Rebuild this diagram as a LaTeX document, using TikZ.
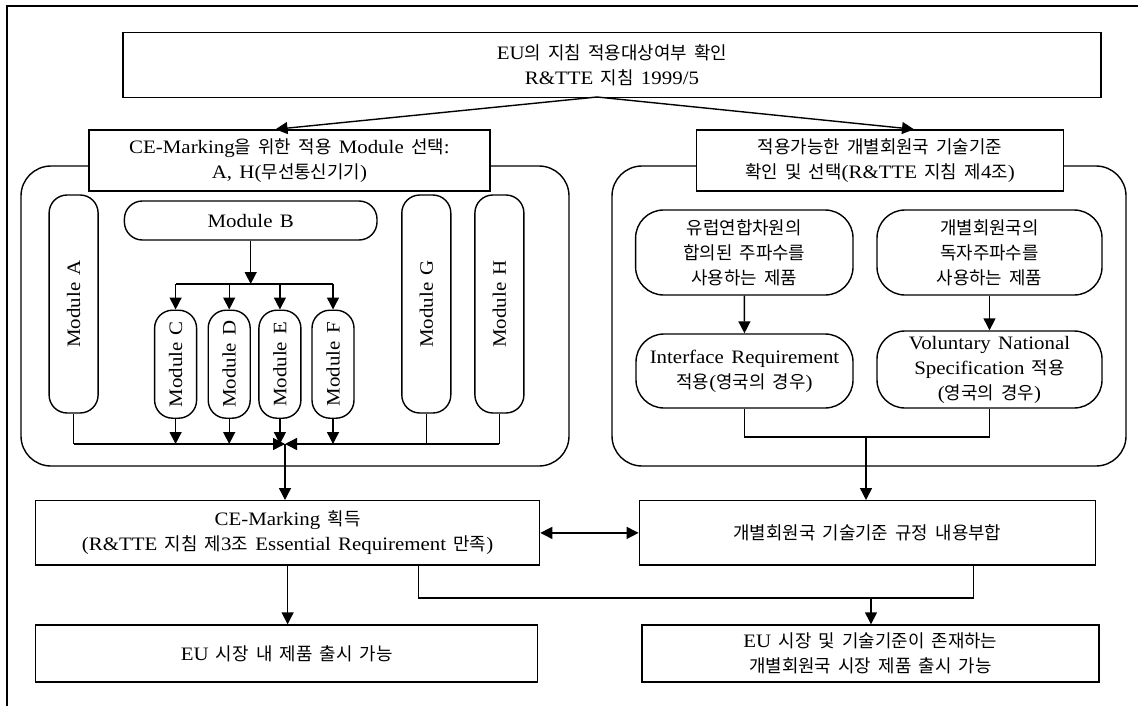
\documentclass[tikz,border=0pt]{standalone}
\usepackage{fontspec}
\setmainfont{Liberation Serif}[FakeStretch=1.1, WordSpace=1.4]
\newfontfamily\kofont{Noto Sans CJK KR}[Scale=0.94, WordSpace=1.8]
\newcommand{\kr}[1]{{\kofont #1}}
\usepackage{tikz}
\usetikzlibrary{arrows.meta,calc,positioning}
\tikzset{box/.style={draw, fill=white, align=center, inner sep=0pt},
  groupframe/.style={draw, rounded corners=15pt, inner sep=0pt},
  module/.style={draw, fill=white, inner sep=0pt, rounded corners=9pt},
  vmodule/.style={module, rotate=90, minimum width=109pt, minimum height=24.5pt},
  smodule/.style={module, rotate=90, minimum width=54pt, minimum height=21pt},
  bubble/.style={draw, fill=white, rounded corners=14pt, align=center, inner sep=0pt}}

\begin{document}
\begin{tikzpicture}[>={Triangle[length=6pt,width=6pt]}, x=0.5pt, y=-0.5pt, line width=0.7pt, font=\fontsize{9.5}{12.5}\selectfont]
\useasboundingbox (0,0) rectangle (1138,706);
\draw (7,706) -- (7,6) -- (1138,6);
% top
\node[box, minimum width=489pt, minimum height=32.5pt] (check) at (612,65) {EU\kr{의 지침 적용대상여부 확인}\\R\&TTE \kr{지침} 1999/5};
\coordinate (splitTop) at (597,97);
% groups
\node[groupframe, minimum width=274pt, minimum height=150pt] (grpL) at (295,316) {};
\node[groupframe, minimum width=257pt, minimum height=150pt] (grpR) at (869,316) {};
\node[box, minimum width=200.5pt, minimum height=30.5pt] (selMod) at (289.5,160.5) {CE-Marking\kr{을 위한 적용} Module \kr{선택}:\\A, H(\kr{무선통신기기})};
\node[box, minimum width=183.3pt, minimum height=30.5pt] (selStd) at (880,160.5) {\kr{적용가능한 개별회원국 기술기준}\\\kr{확인 및 선택}(R\&TTE \kr{지침 제}4\kr{조})};
\draw[->] (splitTop) -- ($(selMod.north)+(-14,0)$);
\draw[->] (splitTop) -- ($(selStd.north)+(34,0)$);
% modules
\node[vmodule] (modA) at (73.6,304) {Module A};
\node[vmodule] (modG) at (426.3,304) {Module G};
\node[vmodule] (modH) at (499.4,304) {Module H};
\node[module, minimum width=126.3pt, minimum height=19.5pt] (modB) at (250.7,220.5) {Module B};
\foreach \m/\x in {C/175.6, D/229.2, E/279.9, F/333}
  \node[smodule] (mod\m) at (\x,364.2) {Module \m};
\coordinate (splitB) at (250.7,284);
\draw[->] (modB) -- (splitB);
\draw (splitB -| modC) -- (splitB -| modF);
\foreach \m in {C,D,E,F} \draw[->] (splitB -| mod\m) -- (mod\m);
\coordinate (merge) at (285,444);
\foreach \m in {A,G,H} \draw (mod\m) -- (mod\m |- merge);
\foreach \m in {C,D,E,F} \draw[->] (mod\m) -- (mod\m |- merge);
\draw[->] (modA |- merge) -- (merge);
\draw[->] (modH |- merge) -- (merge);
% national specs
\node[bubble, minimum width=108.7pt, minimum height=42.5pt] (euFreq) at (744.3,252.5) {\kr{유럽연합차원의}\\\kr{합의된 주파수를}\\\kr{사용하는 제품}};
\node[bubble, minimum width=112.5pt, minimum height=42.5pt] (natFreq) at (989.5,252.5) {\kr{개별회원국의}\\\kr{독자주파수를}\\\kr{사용하는 제품}};
\node[bubble, minimum width=108.5pt, minimum height=37pt] (ifReq) at (744.5,371) {Interface Requirement\\\kr{적용}(\kr{영국의 경우})};
\node[bubble, minimum width=112.5pt, minimum height=38.5pt] (volSpec) at (989.5,369.5) {Voluntary National\\Specification \kr{적용}\\(\kr{영국의 경우})};
\draw[->] (euFreq) -- (ifReq);
\draw[->] (natFreq) -- (volSpec);
\coordinate (joinR) at (866,437);
\draw (ifReq) |- (joinR) -| (volSpec);
% results
\node[box, minimum width=252pt, minimum height=32.2pt] (ceMark) at (287.6,532.9) {CE-Marking \kr{획득}\\(R\&TTE \kr{지침 제}3\kr{조} Essential Requirement \kr{만족})};
\node[box, minimum width=228pt, minimum height=32.2pt] (conform) at (867.3,532.9) {\kr{개별회원국 기술기준 규정 내용부합}};
\draw[->] (merge) -- (merge |- ceMark.north);
\draw[->] (joinR) -- (joinR |- conform.north);
\draw[<->] (ceMark) -- (conform);
\node[box, minimum width=251pt, minimum height=28.5pt] (mktEU) at (286.7,653.5) {EU \kr{시장 내 제품 출시 가능}};
\node[box, minimum width=228.6pt, minimum height=28.5pt] (mktNat) at (870.4,653.5) {EU \kr{시장 및 기술기준이 존재하는}\\\kr{개별회원국 시장 제품 출시 가능}};
\draw[->] (ceMark.south) -- (ceMark.south |- mktEU.north);
\coordinate (joinB) at (871,598);
\draw ($(ceMark.south)+(131,0)$) |- (joinB) -| ($(conform.south)+(106,0)$);
\draw[->] (joinB) -- (joinB |- mktNat.north);
\end{tikzpicture}
\end{document}
